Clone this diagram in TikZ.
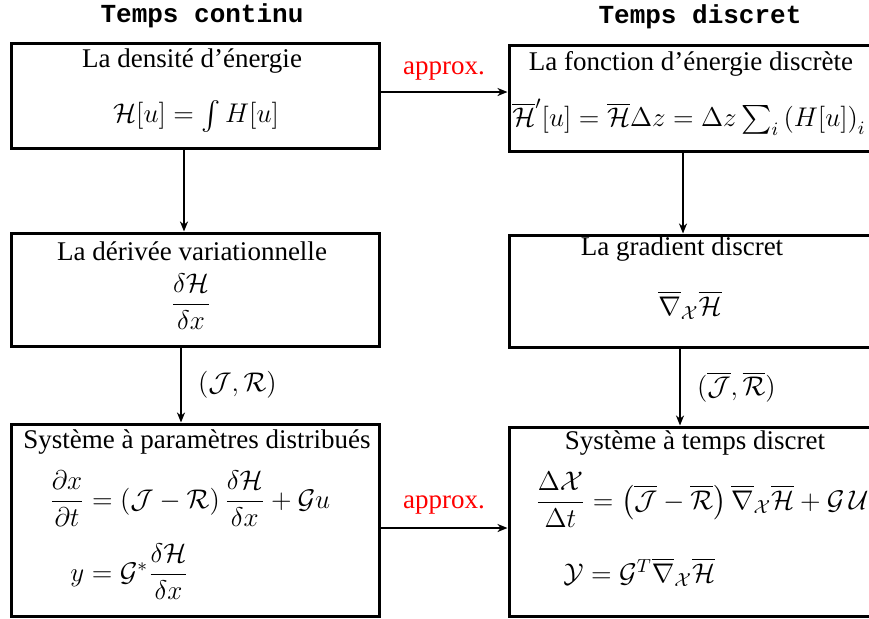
\RequirePackage{fix-cm}
\documentclass[tikz,border=0pt]{standalone}
\usepackage{amsmath}
\usepackage{fontspec}
\setmainfont{Liberation Serif}
\setmonofont{Liberation Mono}
\usetikzlibrary{arrows.meta}

\begin{document}
\begin{tikzpicture}[
    x=0.5pt, y=-0.5pt,
    font=\fontsize{13.5}{16}\selectfont,
    title/.style={font=\fontsize{13}{15}\selectfont\ttfamily\bfseries},
    box/.style={draw, line width=1.5pt, inner sep=0pt, minimum width=184pt},
    txt/.style={inner sep=0pt},
    mth/.style={inner sep=0pt},
    eq/.style={mth, anchor=west},
    approx/.style={text=red},
    arr/.style={-{Stealth[length=5pt,width=4pt,inset=1.5pt]}, line width=1.1pt},
]
    \useasboundingbox (0,0) rectangle (869,618);

    % ============= Temps continu =============
    \node[title] (titleC) at (202, 16) {Temps continu};
    \node[box, minimum height=52.5pt] (dens) at (195, 95.5) {};
    \node[txt] (densT) at (192, 61) {La densité d'énergie};
    \node[mth] (densF) at (196, 116) {$\mathcal{H}[u] = \int H[u]$};

    \node[box, minimum height=56.5pt] (deriv) at (195, 289.5) {};
    \node[txt] (derivT) at (192, 251) {La dérivée variationnelle};
    \node[mth] (derivF) at (191, 302) {$\dfrac{\delta\mathcal{H}}{\delta x}$};

    \node[box, minimum height=96pt] (sysc) at (195, 520) {};
    \node[txt] (syscT) at (197, 442) {Système à paramètres distribués};
    \node[eq] (syscA) at (49, 499) {$\dfrac{\partial x}{\partial t} = (\mathcal{J} - \mathcal{R})\,\dfrac{\delta\mathcal{H}}{\delta x} + \mathcal{G}u$};
    \node[eq] (syscB) at (70, 572) {$y = \mathcal{G}^{*}\dfrac{\delta\mathcal{H}}{\delta x}$};

    \draw[arr] ([xshift=-5.5pt]dens.south) -- ([xshift=-5.5pt]dens.south |- deriv.north);
    \draw[arr] ([xshift=-7pt]deriv.south) -- ([xshift=-7pt]deriv.south |- sysc.north)
        node[mth, midway, right=8pt] (jr) {$(\mathcal{J},\mathcal{R})$};

    % ============= Temps discret =============
    \node[title] (titleD) at (700, 17) {Temps discret};
    \node[box, minimum width=186pt, minimum height=53pt] (fonc) at (695, 98) {};
    \node[txt] (foncT) at (691, 64) {La fonction d'énergie discrète};
    \node[mth] (foncF) at (689, 117) {$\overline{\mathcal{H}}'[u] = \overline{\mathcal{H}}\Delta z = \Delta z \sum_i \left(H[u]\right)_i$};

    \node[box, minimum width=186pt, minimum height=56pt] (grad) at (695, 291) {};
    \node[txt] (gradT) at (682, 249) {La gradient discret};
    \node[mth] (gradF) at (690, 305) {$\overline{\nabla}_{\mathcal{X}}\overline{\mathcal{H}}$};

    \node[box, minimum width=186pt, minimum height=94.5pt] (sysd) at (695, 521.5) {};
    \node[txt] (sysdT) at (695, 443) {Système à temps discret};
    \node[eq] (sysdA) at (535, 500) {$\dfrac{\Delta\mathcal{X}}{\Delta t} = \left(\overline{\mathcal{J}} - \overline{\mathcal{R}}\right)\overline{\nabla}_{\mathcal{X}}\overline{\mathcal{H}} + \mathcal{G}\,\mathcal{U}$};
    \node[eq] (sysdB) at (563, 572) {$\mathcal{Y} = \mathcal{G}^{T}\overline{\nabla}_{\mathcal{X}}\overline{\mathcal{H}}$};

    \draw[arr] ([xshift=-6pt]fonc.south) -- ([xshift=-6pt]fonc.south |- grad.north);
    \draw[arr] ([xshift=-7.5pt]grad.south) -- ([xshift=-7.5pt]grad.south |- sysd.north)
        node[mth, midway, right=8pt] (jrd) {$(\overline{\mathcal{J}},\overline{\mathcal{R}})$};

    % approximations
    \draw[arr] ([yshift=1.75pt]dens.east) -- ([yshift=1.75pt]dens.east -| fonc.west)
        node[approx, midway, above=2pt] (apx1) {approx.};
    \draw[arr] ([yshift=-4pt]sysc.east) -- ([yshift=-4pt]sysc.east -| sysd.west)
        node[approx, midway, above=3pt] (apx2) {approx.};
\end{tikzpicture}
\end{document}
